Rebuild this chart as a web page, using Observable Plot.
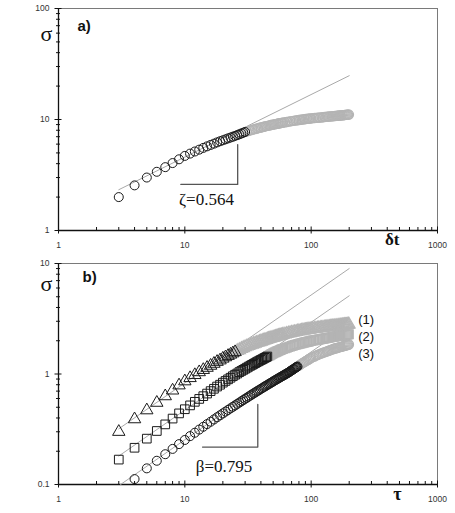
<!DOCTYPE html>
<html><head><meta charset="utf-8">
<script src="https://cdn.jsdelivr.net/npm/d3@7"></script>
<script src="https://cdn.jsdelivr.net/npm/@observablehq/plot@0.6"></script>
<style>
body{margin:0;background:#fff;}
#chart{width:455px;}
#chart svg{display:block;}
</style></head><body><div id="chart"></div>
<script>
// ---------- axis ticks ----------
const xMajor = [1, 10, 100, 1000];
const xMinor = [2,3,4,5,6,7,8,9,20,30,40,50,60,70,80,90,200,300,400,500,600,700,800,900];
const yMajorA = [1, 10, 100];
const yMinorA = [2,3,4,5,6,7,8,9,20,30,40,50,60,70,80,90];
const yMajorB = [0.1, 1, 10];
const yMinorB = [0.2,0.3,0.4,0.5,0.6,0.7,0.8,0.9,2,3,4,5,6,7,8,9];

// ---------- panel a : [δt, σ] ----------
const a_black = [[3,2.0],[4,2.55],[5,3.0],[6,3.38],[7,3.72],[8,4.05],[9,4.38],[10,4.7],[11,4.93],[12,5.15],[13,5.35],[14,5.55],[15,5.73],[16,5.9],[17,6.06],[18,6.22],[19,6.37],[20,6.5],[21,6.63],[22,6.76],[23,6.88],[24,7.0],[25,7.12],[26,7.24],[27,7.36],[28,7.48],[29,7.6],[30,7.72]];
const a_gray = [[31,7.82],[32,7.9],[33,7.98],[34,8.06],[35,8.14],[36,8.21],[37,8.28],[38,8.35],[39,8.42],[40,8.48],
  [41,8.54],[42,8.6],[43,8.66],[44,8.71],[45,8.76],[46,8.81],[47,8.86],[48,8.91],[49,8.96],[50,9.0],
  [51,9.04],[52,9.08],[53,9.12],[54,9.16],[55,9.2],[56,9.24],[57,9.28],[58,9.31],[59,9.35],[60,9.38],
  [62,9.44],[64,9.5],[66,9.56],[68,9.62],[70,9.67],[72,9.72],[74,9.77],[76,9.82],[78,9.86],[80,9.9],
  [82,9.94],[84,9.98],[86,10.02],[88,10.06],[90,10.09],[92,10.12],[94,10.15],[96,10.18],[98,10.21],[100,10.24],
  [103,10.28],[106,10.31],[109,10.34],[112,10.37],[115,10.4],[118,10.43],[121,10.46],[124,10.49],[127,10.52],[130,10.55],
  [133,10.58],[136,10.61],[139,10.63],[142,10.66],[145,10.68],[148,10.71],[151,10.73],[154,10.75],[157,10.78],[160,10.8],
  [163,10.82],[166,10.85],[169,10.87],[172,10.89],[175,10.91],[178,10.93],[181,10.96],[184,10.98],[187,11.0],[190,11.02],
  [193,11.04],[196,11.06],[199,11.08]];
const fitA = [[3, 2.33], [200, 24.8]];
const slopeA = [[9.3, 2.6], [26.2, 2.6], [26.2, 5.95]];
const zetaLabel = {text: "ζ=0.564", x: 9.0, y: 1.9};

// ---------- panel b : [τ, σ] ----------
const s1_black = [[3,0.30],[4,0.39],[5,0.47],[6,0.55],[7,0.63],[8,0.71],[9,0.79],[10,0.86],[11,0.92],[12,0.98],[13,1.04],[14,1.09],[15,1.14],[16,1.19],[17,1.24],[18,1.29],[19,1.33],[20,1.38],[21,1.42],[22,1.46],[23,1.50],[24,1.54],[25,1.58]];
const s1_gray = [[26,1.62],[27,1.65],[28,1.69],[29,1.72],[30,1.75],[31,1.78],[32,1.8],[33,1.83],[34,1.85],[35,1.87],
  [36,1.89],[37,1.91],[38,1.93],[39,1.95],[40,1.97],[41,1.99],[42,2.01],[43,2.03],[44,2.04],[45,2.06],
  [46,2.08],[47,2.09],[48,2.11],[49,2.12],[50,2.14],[51,2.15],[52,2.17],[53,2.18],[54,2.19],[55,2.21],
  [56,2.22],[57,2.23],[58,2.24],[59,2.26],[60,2.27],
  [62,2.29],[64,2.31],[66,2.33],[68,2.35],[70,2.37],[72,2.38],[74,2.4],[76,2.41],[78,2.43],[80,2.44],
  [82,2.45],[84,2.47],[86,2.48],[88,2.49],[90,2.5],[92,2.51],[94,2.52],[96,2.53],[98,2.54],[100,2.55],
  [103,2.56],[106,2.57],[109,2.58],[112,2.59],[115,2.6],[118,2.61],[121,2.62],[124,2.63],[127,2.64],[130,2.65],
  [133,2.66],[136,2.67],[139,2.675],[142,2.68],[145,2.69],[148,2.7],[151,2.705],[154,2.71],[157,2.72],[160,2.725],
  [163,2.73],[166,2.74],[169,2.745],[172,2.75],[175,2.76],[178,2.765],[181,2.77],[184,2.78],[187,2.785],[190,2.79],
  [193,2.8],[196,2.805],[199,2.81]];

const s2_black = [[3,0.168],[4,0.215],[5,0.26],[6,0.305],[7,0.35],[8,0.395],[9,0.44],[10,0.48],[11,0.52],[12,0.56],
  [13,0.595],[14,0.63],[15,0.665],[16,0.70],[17,0.735],[18,0.77],[19,0.80],[20,0.835],[21,0.865],[22,0.895],
  [23,0.925],[24,0.955],[25,0.985],[26,1.01],[27,1.04],[28,1.065],[29,1.09],[30,1.115],[31,1.14],[32,1.165],
  [33,1.188],[34,1.21],[35,1.233],[36,1.255],[37,1.278],[38,1.3],[39,1.32],[40,1.34],[41,1.36],[42,1.38],
  [43,1.4],[44,1.42],[45,1.44]];
const s2_gray = [[46,1.46],[47,1.48],[48,1.5],[49,1.52],[50,1.54],[51,1.56],[52,1.575],[53,1.59],[54,1.605],[55,1.62],
  [56,1.635],[57,1.65],[58,1.665],[59,1.68],[60,1.69],
  [62,1.71],[64,1.73],[66,1.75],[68,1.77],[70,1.79],[72,1.81],[74,1.83],[76,1.845],[78,1.86],[80,1.875],
  [82,1.89],[84,1.9],[86,1.915],[88,1.93],[90,1.94],[92,1.95],[94,1.96],[96,1.97],[98,1.985],[100,2.0],
  [103,2.01],[106,2.02],[109,2.035],[112,2.045],[115,2.055],[118,2.065],[121,2.075],[124,2.085],[127,2.095],[130,2.105],
  [133,2.115],[136,2.125],[139,2.135],[142,2.145],[145,2.155],[148,2.165],[151,2.175],[154,2.18],[157,2.19],[160,2.2],
  [163,2.205],[166,2.215],[169,2.22],[172,2.23],[175,2.235],[178,2.245],[181,2.25],[184,2.26],[187,2.265],[190,2.27],
  [193,2.28],[196,2.285],[199,2.29]];

const s3_black = [[4,0.112],[5,0.14],[6,0.164],[7,0.188],[8,0.21],[9,0.232],[10,0.253],[11,0.274],[12,0.294],[13,0.314],
  [14,0.333],[15,0.352],[16,0.37],[17,0.388],[18,0.406],[19,0.423],[20,0.44],[21,0.457],[22,0.473],[23,0.489],
  [24,0.505],[25,0.52],[26,0.536],[27,0.551],[28,0.566],[29,0.581],[30,0.596],[31,0.61],[32,0.625],[33,0.639],
  [34,0.653],[35,0.667],[36,0.68],[37,0.694],[38,0.707],[39,0.72],[40,0.733],[41,0.746],[42,0.759],[43,0.771],
  [44,0.784],[45,0.796],[46,0.808],[47,0.82],[48,0.832],[49,0.844],[50,0.856],[51,0.868],[52,0.879],[53,0.891],
  [54,0.902],[55,0.913],[56,0.924],[57,0.935],[58,0.946],[59,0.957],[60,0.967],[61,0.978],[62,0.988],[63,0.999],
  [64,1.01],[65,1.02],[66,1.03],[67,1.042],[68,1.055],[69,1.068],[70,1.08],[71,1.09],[72,1.1],[73,1.112],
  [74,1.125],[75,1.138],[76,1.15],[77,1.16],[78,1.17]];
const s3_gray = [[80,1.19],[82,1.215],[84,1.24],[86,1.26],[88,1.28],[90,1.3],[92,1.32],[94,1.34],[96,1.36],[98,1.38],[100,1.4],
  [103,1.42],[106,1.44],[109,1.465],[112,1.485],[115,1.505],[118,1.52],[121,1.54],[124,1.555],[127,1.57],[130,1.585],
  [133,1.6],[136,1.615],[139,1.63],[142,1.645],[145,1.66],[148,1.675],[151,1.69],[154,1.7],[157,1.71],[160,1.72],
  [163,1.73],[166,1.74],[169,1.75],[172,1.76],[175,1.77],[178,1.78],[181,1.79],[184,1.8],[187,1.81],[190,1.82],
  [193,1.83],[196,1.84],[199,1.85]];

const fitB = [
  [[3, 0.319], [200, 9.0]],
  [[3, 0.181], [200, 5.1]],
  [[3.1, 0.1], [200, 2.75]]
];
const slopeB = [[13.8, 0.218], [37.8, 0.218], [37.8, 0.531]];
const betaLabel = {text: "β=0.795", x: 12.2, y: 0.146};
const seriesLabels = ["(1)", "(2)", "(3)"];
const seriesLabelX = [236, 236, 236];
const seriesLabelY = [3.07, 2.16, 1.53];

// ---------- helpers ----------
const GRAY = "#b4b4b4", BLACK = "#1a1a1a", FIT = "#a9a9a9";
const SERIF = "'Liberation Serif', 'Times New Roman', serif";
const SANS = "'Liberation Sans', Arial, sans-serif";
const X = d => d[0], Y = d => d[1];

function axes(yMajor, yMinor, yMin) {
  return [
    Plot.frame({stroke: "#7a7a7a", strokeWidth: 1}),
    Plot.ruleX([1], {stroke: "#111", strokeWidth: 1.3}),
    Plot.ruleY([yMin], {stroke: "#111", strokeWidth: 1.3}),
    Plot.axisX({ticks: xMajor, tickSize: 7, dy: -3.5, tickFormat: () => "", label: null, stroke: "#111"}),
    Plot.axisX({ticks: xMinor, tickSize: 3, dy: -3, tickFormat: () => "", label: null, stroke: "#111"}),
    Plot.axisX({ticks: xMajor, tickSize: 0, tickPadding: 11, tickFormat: d => String(d), label: null, fontSize: 8.5, fill: "#333"}),
    Plot.axisY({ticks: yMajor, tickSize: 7, dx: 3.5, tickFormat: () => "", label: null, stroke: "#111"}),
    Plot.axisY({ticks: yMinor, tickSize: 4, dx: 2, tickFormat: () => "", label: null, stroke: "#111"}),
    Plot.axisY({ticks: yMajor, tickSize: 0, tickPadding: 9, tickFormat: d => String(d), label: null, fontSize: 8.5, fill: "#333"})
  ];
}

const dotOpts = (symbol, stroke, r) => ({x: X, y: Y, symbol, r, stroke, fill: "none", strokeWidth: stroke === GRAY ? 1.2 : 1});
const fitLine = pts => Plot.line(pts, {x: X, y: Y, stroke: FIT, strokeWidth: 1});

const panelA = Plot.plot({
  width: 455, height: 250,
  marginLeft: 58, marginRight: 18, marginTop: 8, marginBottom: 20,
  x: {type: "log", domain: [1, 1000]},
  y: {type: "log", domain: [1, 100]},
  style: {fontFamily: SANS, background: "#fff", overflow: "visible"},
  marks: [
    ...axes(yMajorA, yMinorA, 1),
    fitLine(fitA),
    Plot.dot(a_gray, dotOpts("circle", GRAY, 4.6)),
    Plot.dot(a_black, dotOpts("circle", BLACK, 4.5)),
    Plot.line(slopeA, {x: X, y: Y, stroke: "#555", strokeWidth: 1.3}),
    Plot.text([zetaLabel], {x: "x", y: "y", text: "text", textAnchor: "start", fontSize: 17, fontFamily: SERIF, fill: "#111"}),
    Plot.text(["σ"], {frameAnchor: "top-left", dx: -18, dy: 17, fontSize: 22, fontFamily: SERIF, fill: "#111"}),
    Plot.text(["a)"], {frameAnchor: "top-left", dx: 19, dy: 12, textAnchor: "start", fontSize: 15, fontWeight: "bold", fill: "#111"}),
    Plot.text(["δt"], {frameAnchor: "bottom-right", dx: -38, dy: 14, fontSize: 17, fontWeight: "bold", fontFamily: SERIF, fill: "#111"})
  ]
});

const panelB = Plot.plot({
  width: 455, height: 263,
  marginLeft: 58, marginRight: 18, marginTop: 13, marginBottom: 29,
  x: {type: "log", domain: [1, 1000]},
  y: {type: "log", domain: [0.1, 10]},
  style: {fontFamily: SANS, background: "#fff", overflow: "visible"},
  marks: [
    ...axes(yMajorB, yMinorB, 0.1),
    ...fitB.map(fitLine),
    Plot.dot(s1_gray, dotOpts("triangle", GRAY, 4.6)),
    Plot.dot(s2_gray, dotOpts("square", GRAY, 4.9)),
    Plot.dot(s3_gray, dotOpts("circle", GRAY, 4.6)),
    Plot.dot(s1_black, dotOpts("triangle", BLACK, 4.6)),
    Plot.dot(s2_black, dotOpts("square", BLACK, 4.9)),
    Plot.dot(s3_black, dotOpts("circle", BLACK, 4.5)),
    Plot.line(slopeB, {x: X, y: Y, stroke: "#555", strokeWidth: 1.3}),
    Plot.text([betaLabel], {x: "x", y: "y", text: "text", textAnchor: "start", fontSize: 17, fontFamily: SERIF, fill: "#111"}),
    Plot.text(seriesLabels, {x: (d, i) => seriesLabelX[i], y: (d, i) => seriesLabelY[i], text: d => d, textAnchor: "start", fontSize: 13, fill: "#111"}),
    Plot.text(["σ"], {frameAnchor: "top-left", dx: -18, dy: 12, fontSize: 22, fontFamily: SERIF, fill: "#111"}),
    Plot.text(["b)"], {frameAnchor: "top-left", dx: 24, dy: 8, textAnchor: "start", fontSize: 15, fontWeight: "bold", fill: "#111"}),
    Plot.text(["τ"], {frameAnchor: "bottom-right", dx: -36, dy: 15, fontSize: 18, fontWeight: "bold", fontFamily: SERIF, fill: "#111"})
  ]
});

document.getElementById("chart").append(panelA, panelB);
</script></body></html>
